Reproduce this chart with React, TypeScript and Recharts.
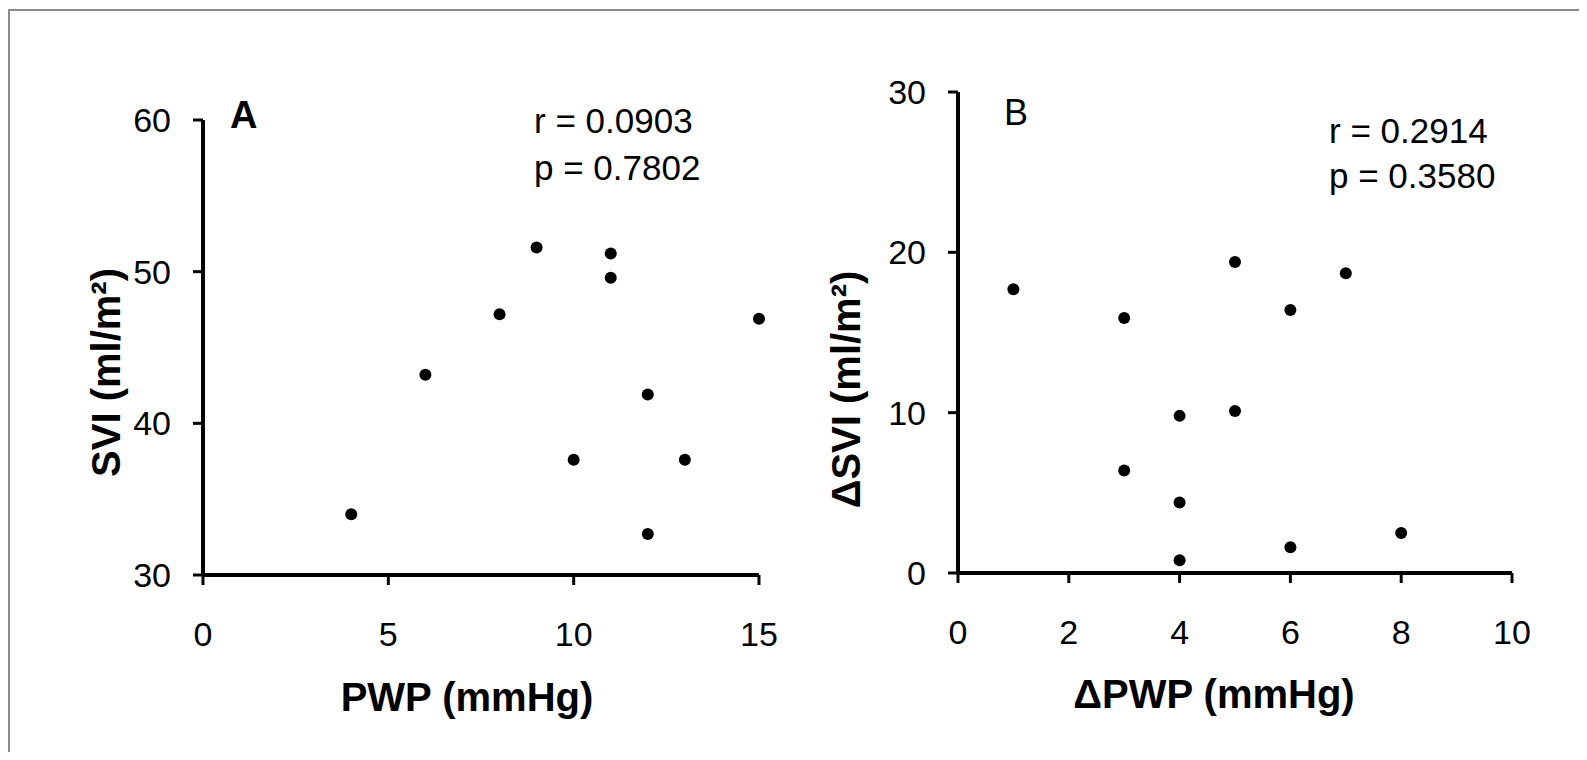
import { Scatter, ScatterChart, XAxis, YAxis } from "recharts"

// panel A: PWP vs SVI
const pwp = [4, 6, 8, 9, 11, 11, 12, 10, 13, 12, 15]
const svi = [34.0, 43.2, 47.2, 51.6, 51.2, 49.6, 41.9, 37.6, 37.6, 32.7, 46.9]
const pwpTicks = [0, 5, 10, 15]
const sviTicks = [30, 40, 50, 60]

// panel B: change in PWP vs change in SVI
const deltaPwp = [1, 3, 5, 7, 6, 4, 5, 3, 4, 4, 6, 8]
const deltaSvi = [17.7, 15.9, 19.4, 18.7, 16.4, 9.8, 10.1, 6.4, 4.4, 0.8, 1.6, 2.5]
const deltaPwpTicks = [0, 2, 4, 6, 8, 10]
const deltaSviTicks = [0, 10, 20, 30]

const dataA = pwp.map((x, i) => ({ x, y: svi[i] }))
const dataB = deltaPwp.map((x, i) => ({ x, y: deltaSvi[i] }))

const font = '"Liberation Sans", Arial, sans-serif'
const axisStyle = { stroke: "#000", strokeWidth: 4 }
const tickLineStyle = { stroke: "#000", strokeWidth: 3 }
const tickStyle = { fill: "#000", fontSize: 34 }
const titleStyle = { fill: "#000", fontSize: 40, fontWeight: 700 }

const Dot = (props: any) => <circle cx={props.cx} cy={props.cy} r={6} fill="#000" />

type PanelProps = {
  data: { x: number; y: number }[]
  xDomain: [number, number]
  yDomain: [number, number]
  xTicks: number[]
  yTicks: number[]
  xTitle: string
  yTitle: string
  width: number
  margin: { top: number; right: number; bottom: number; left: number }
  yAxisWidth: number
  yTitleOffset: number
  yTitleDy: number
  xTitleOffset: number
  xTitleDx: number
}

function Panel(p: PanelProps) {
  return (
    <ScatterChart width={p.width} height={744} margin={p.margin}>
      <XAxis
        type="number"
        dataKey="x"
        domain={p.xDomain}
        ticks={p.xTicks}
        interval={0}
        height={60}
        axisLine={axisStyle}
        tickLine={tickLineStyle}
        tickSize={10}
        tickMargin={37}
        tick={tickStyle}
        label={{ value: p.xTitle, position: "bottom", offset: p.xTitleOffset, dx: p.xTitleDx, style: titleStyle }}
      />
      <YAxis
        type="number"
        dataKey="y"
        domain={p.yDomain}
        ticks={p.yTicks}
        interval={0}
        width={p.yAxisWidth}
        axisLine={axisStyle}
        tickLine={tickLineStyle}
        tickSize={10}
        tickMargin={22}
        tick={tickStyle}
        label={{
          value: p.yTitle,
          angle: -90,
          position: "insideLeft",
          offset: p.yTitleOffset,
          dy: p.yTitleDy,
          style: { ...titleStyle, textAnchor: "middle" },
        }}
      />
      <Scatter data={p.data} fill="#000" shape={Dot} isAnimationActive={false} />
    </ScatterChart>
  )
}

export default function App() {
  return (
    <div style={{ position: "relative", width: 1571, height: 744, fontFamily: font, background: "#fff" }}>
      <div
        style={{
          position: "absolute",
          left: 0,
          top: 1,
          width: 1571,
          height: 743,
          borderLeft: "2px solid #8a8a8a",
          borderTop: "2px solid #8a8a8a",
          boxSizing: "border-box",
        }}
      />
      <div style={{ position: "absolute", left: 0, top: 0 }}>
        <Panel
          data={dataA}
          xDomain={[0, 15]}
          yDomain={[30, 60]}
          xTicks={pwpTicks}
          yTicks={sviTicks}
          xTitle="PWP (mmHg)"
          yTitle="SVI (ml/m²)"
          width={790}
          margin={{ top: 112, right: 39, bottom: 117, left: 0 }}
          yAxisWidth={195}
          yTitleOffset={98}
          yTitleDy={25}
          xTitleOffset={48}
          xTitleDx={-14}
        />
        <svg width={790} height={744} style={{ position: "absolute", left: 0, top: 0, pointerEvents: "none" }}>
          <text x={222} y={120} fontSize={38} fontWeight={700}>A</text>
          <text x={526} y={125} fontSize={35}>r = 0.0903</text>
          <text x={526} y={172} fontSize={35}>p = 0.7802</text>
        </svg>
      </div>
      <div style={{ position: "absolute", left: 790, top: 0 }}>
        <Panel
          data={dataB}
          xDomain={[0, 10]}
          yDomain={[0, 30]}
          xTicks={deltaPwpTicks}
          yTicks={deltaSviTicks}
          xTitle="ΔPWP (mmHg)"
          yTitle="ΔSVI (ml/m²)"
          width={781}
          margin={{ top: 84, right: 67, bottom: 119, left: 0 }}
          yAxisWidth={160}
          yTitleOffset={48}
          yTitleDy={57}
          xTitleOffset={47}
          xTitleDx={-21}
        />
        <svg width={781} height={744} style={{ position: "absolute", left: 0, top: 0, pointerEvents: "none" }}>
          <text x={206} y={117} fontSize={36}>B</text>
          <text x={531} y={135} fontSize={35}>r = 0.2914</text>
          <text x={531} y={180} fontSize={35}>p = 0.3580</text>
        </svg>
      </div>
    </div>
  )
}
